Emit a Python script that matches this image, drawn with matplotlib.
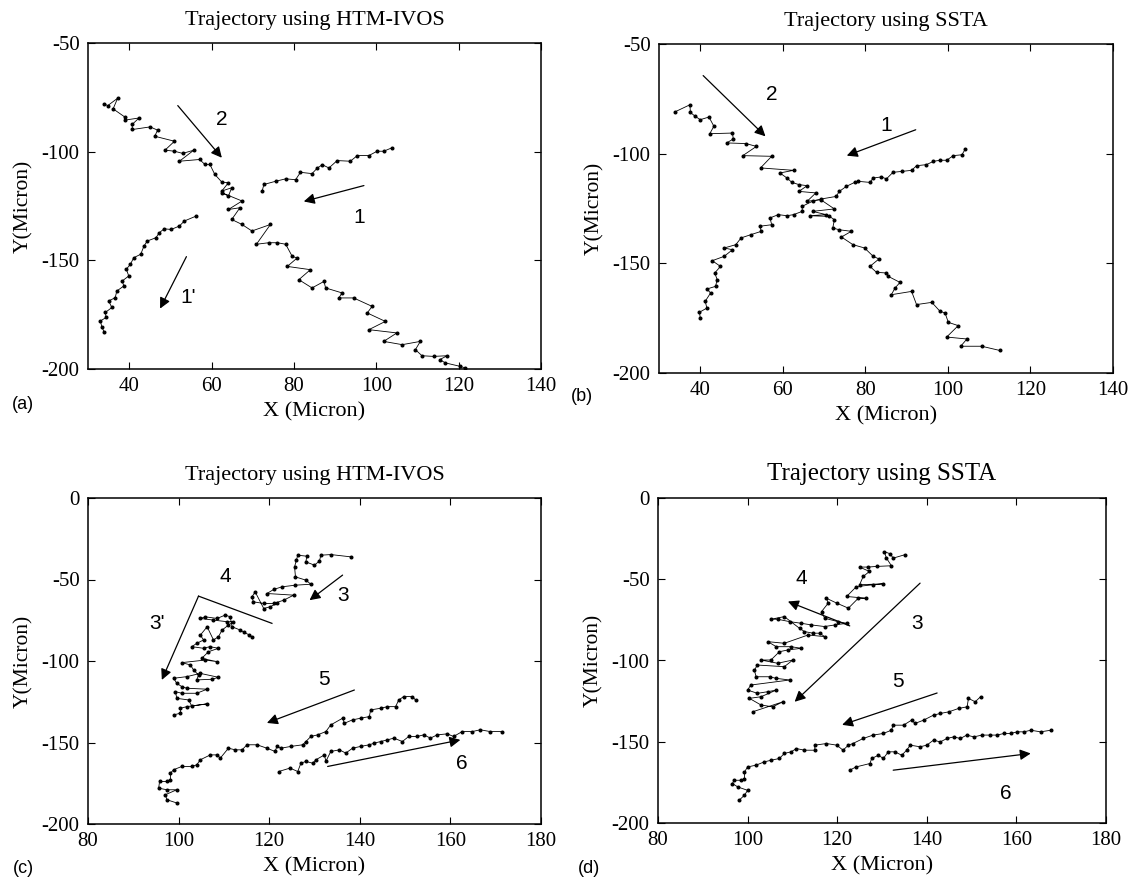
import matplotlib
matplotlib.use('Agg')
import matplotlib.pyplot as plt

plt.rcParams['font.family'] = ['Liberation Serif', 'DejaVu Serif']
plt.rcParams['axes.unicode_minus'] = False

# ----------------------------
# datos (micras)
# ----------------------------
# (a) HTM-IVOS, celula 2
a2_x = [33.8, 34.8, 37.2, 36.1, 38.9, 38.9, 42.4, 40.7, 40.8, 45.1, 46.9, 46.2, 51.0, 48.7, 51.0, 53.0,
        55.7, 52.2, 57.1, 58.4, 59.6, 60.8, 62.5, 64.1, 62.5, 64.9, 64.1, 62.5, 67.4, 64.1, 66.9, 64.9,
        67.4, 69.8, 74.3, 70.9, 73.9, 76.0, 78.0, 79.6, 80.8, 78.4, 84.0, 81.2, 84.4, 87.3, 87.7, 91.7,
        90.9, 94.5, 99.0, 97.8, 102.2, 98.2, 105.0, 101.8, 106.3, 110.7, 109.5, 111.1, 113.9, 117.2,
        115.4, 116.8, 120.4, 121.6]
a2_y = [-77.9, -78.8, -75.4, -80.3, -84.0, -85.5, -84.5, -87.5, -89.8, -88.6, -90.1, -92.9, -95.2, -99.3,
        -99.8, -100.8, -99.3, -104.4, -103.6, -105.9, -105.9, -110.5, -114.0, -114.3, -118.1, -116.6,
        -120.4, -118.9, -122.7, -126.6, -125.8, -131.2, -133.5, -136.5, -133.5, -142.6, -141.9, -141.9,
        -142.6, -148.2, -148.9, -152.8, -154.3, -158.9, -162.7, -159.7, -162.7, -165.0, -167.3, -167.3,
        -171.2, -174.2, -178.1, -181.9, -183.4, -187.3, -188.8, -187.3, -191.1, -193.9, -194.2, -193.9,
        -195.7, -197.2, -198.8, -199.5]
# (a) celula 1 (rama superior)
a1_x = [72.3, 72.7, 75.6, 78.0, 80.4, 81.6, 84.4, 85.7, 86.9, 88.5, 90.5, 93.7, 95.4, 98.2, 100.2, 101.8, 103.7]
a1_y = [-118.1, -115.1, -113.6, -112.5, -112.9, -109.5, -110.1, -107.5, -106.0, -107.5, -104.1, -104.4,
        -101.8, -101.8, -99.8, -99.8, -98.3]
# (a) celula 1' (rama inferior)
a1p_x = [56.3, 53.4, 52.2, 50.2, 48.5, 47.3, 46.5, 44.4, 43.6, 42.8, 41.1, 40.3, 39.3, 39.9, 38.3, 38.7,
         37.0, 36.6, 35.0, 35.8, 34.2, 34.4, 33.0, 33.4, 34.0]
a1p_y = [-129.6, -131.9, -134.2, -135.8, -135.5, -137.3, -139.6, -141.1, -143.4, -147.2, -148.8, -151.8,
         -154.1, -157.2, -159.5, -161.8, -164.1, -167.2, -168.7, -171.7, -174.0, -176.3, -177.9, -180.9, -183.2]

# (b) SSTA, celula 2
b2_x = [33.8, 37.5, 37.6, 38.8, 40.0, 42.1, 43.3, 42.3, 47.8, 48.0, 46.4, 51.1, 53.6, 50.3, 57.3, 54.6,
        62.6, 59.3, 61.0, 62.2, 63.9, 65.9, 63.9, 68.0, 65.9, 69.2, 72.5, 67.2, 70.5, 66.5, 71.3, 72.5,
        72.1, 73.7, 76.6, 74.2, 77.0, 79.8, 81.9, 83.3, 81.1, 82.7, 85.1, 85.5, 88.4, 87.2, 86.3, 91.2,
        92.4, 96.1, 98.1, 99.3, 100.1, 102.5, 99.7, 104.6, 103.1, 108.2, 112.5]
b2_y = [-81.0, -77.7, -81.2, -83.0, -84.5, -83.3, -87.5, -90.9, -90.6, -93.3, -95.1, -95.4, -96.7, -100.9,
        -101.2, -106.5, -107.6, -108.8, -111.1, -113.1, -114.1, -114.6, -117.2, -117.9, -121.7, -121.0,
        -125.2, -126.3, -127.8, -128.3, -128.6, -130.1, -133.9, -134.7, -135.4, -138.0, -141.5, -143.0,
        -146.8, -148.0, -151.4, -154.1, -154.4, -155.9, -158.7, -161.2, -164.3, -162.8, -168.8, -167.8,
        -171.9, -172.6, -176.9, -178.4, -183.6, -184.5, -187.8, -187.8, -189.7]
# (b) celula 1
b1_x = [40.0, 39.8, 41.6, 41.2, 42.5, 41.6, 43.7, 44.1, 43.5, 44.9, 42.9, 45.8, 47.8, 45.8, 48.6, 49.9,
        52.3, 54.8, 54.4, 57.3, 56.9, 58.9, 61.0, 62.6, 64.7, 64.7, 67.2, 69.2, 72.9, 73.7, 75.4, 77.4,
        78.2, 81.1, 81.9, 83.9, 85.1, 86.7, 88.8, 91.2, 92.4, 94.8, 96.5, 98.1, 99.7, 101.3, 103.4, 104.2]
b1_y = [-174.9, -172.3, -170.4, -167.3, -163.5, -161.7, -160.5, -157.4, -154.4, -151.4, -148.8, -146.8,
        -143.8, -143.0, -141.5, -138.4, -136.9, -135.4, -133.1, -132.4, -129.3, -127.8, -128.3, -127.8,
        -126.3, -124.0, -121.7, -120.7, -119.5, -117.2, -114.9, -113.1, -112.6, -113.1, -111.1, -110.6,
        -111.5, -108.5, -108.1, -107.6, -105.5, -105.0, -103.5, -103.0, -103.0, -100.9, -100.5, -97.9]

# (c) HTM-IVOS, celula 3 (grupo superior)
c3_x = [138.0, 133.6, 131.4, 131.1, 130.0, 128.1, 128.3, 126.3, 126.0, 125.6, 125.8, 128.1, 129.2, 125.7,
        122.8, 121.0, 119.5, 125.4, 123.2, 121.0, 118.8, 116.5, 116.2, 116.9, 118.8, 120.2, 121.7]
c3_y = [-36.1, -34.7, -35.1, -38.6, -41.2, -39.2, -35.7, -35.1, -38.2, -42.2, -48.4, -50.4, -52.9, -53.5,
        -54.5, -56.1, -58.6, -59.6, -62.7, -64.7, -64.7, -63.7, -60.6, -57.6, -67.8, -66.7, -64.7]
# (c) celula 3' (grupo izquierdo)
c3p_x = [116.2, 115.6, 114.5, 113.6, 111.8, 111.4, 110.3, 108.5, 105.9, 104.8, 107.7, 110.7, 112.1, 111.0,
         109.6, 108.8, 107.7, 106.3, 104.8, 105.5, 104.0, 102.9, 105.5, 106.9, 108.8, 106.6, 105.1, 108.5,
         105.9, 100.7, 102.6, 103.3, 104.4, 104.0, 107.4, 108.8, 104.8, 101.8, 98.9, 99.6, 100.7, 101.8,
         106.3, 104.0, 100.7, 99.3, 99.6, 102.2, 102.9, 106.3, 101.8, 100.4, 100.4, 98.9]
c3p_y = [-85.1, -84.0, -82.5, -81.0, -79.0, -72.9, -71.8, -73.9, -72.9, -73.9, -74.9, -75.9, -75.9, -78.0,
         -81.0, -85.1, -87.1, -79.0, -84.1, -87.1, -89.2, -91.2, -92.2, -91.2, -92.2, -94.3, -98.4, -100.4,
         -99.4, -101.0, -102.4, -105.5, -108.6, -111.6, -111.2, -110.0, -107.6, -109.6, -110.6, -113.7,
         -115.7, -116.7, -117.3, -119.8, -119.8, -118.8, -122.9, -123.9, -127.6, -126.3, -128.0, -129.0,
         -132.0, -133.1]
# (c) celula 5
c5_x = [152.3, 151.6, 149.7, 148.6, 147.9, 146.1, 144.6, 142.4, 142.1, 140.2, 138.4, 136.6, 136.2, 133.6,
        132.5, 130.7, 129.2, 128.1, 127.4, 124.8, 122.6, 121.7, 121.3, 119.5, 117.3, 115.1, 114.0, 112.5,
        111.0, 109.2, 108.5, 107.0, 104.8, 104.0, 102.9, 100.7, 98.9, 98.2, 98.2, 97.4, 95.8, 95.6, 97.4,
        99.6, 97.1, 97.4, 99.6]
c5_y = [-123.9, -121.8, -121.8, -123.9, -128.0, -128.0, -129.0, -130.0, -134.1, -135.1, -136.1, -138.2,
        -135.1, -139.2, -143.3, -145.3, -146.3, -149.4, -151.4, -152.4, -153.5, -152.4, -155.5, -153.5,
        -151.4, -151.4, -154.5, -154.5, -153.5, -159.6, -157.6, -157.6, -160.6, -163.7, -164.7, -164.7,
        -166.7, -168.8, -172.9, -173.9, -173.9, -178.0, -179.0, -179.0, -182.0, -185.1, -187.1]
# (c) celula 6
c6_x = [122.1, 124.6, 126.3, 127.0, 128.1, 129.6, 130.3, 132.2, 132.5, 133.6, 135.5, 136.9, 138.4, 140.2,
        142.1, 143.2, 144.6, 146.1, 147.5, 149.4, 150.8, 152.7, 154.1, 155.6, 157.1, 159.3, 160.7, 162.6,
        164.8, 166.6, 168.8, 171.4]
c6_y = [-167.8, -165.7, -167.8, -162.7, -161.6, -162.7, -160.6, -157.6, -161.6, -155.5, -154.5, -156.5,
        -153.5, -152.4, -151.4, -150.4, -149.4, -148.4, -147.3, -149.4, -146.3, -146.3, -145.3, -147.3,
        -145.3, -144.7, -146.3, -143.3, -143.3, -142.2, -143.3, -143.3]

# (d) SSTA, celula 3
d3_x = [135.1, 132.5, 131.8, 130.5, 131.0, 132.1, 128.8, 126.9, 125.0, 127.2, 125.8, 125.0, 130.3, 128.0,
        124.3, 122.1, 126.5, 124.7, 122.5, 119.9, 117.6, 118.0, 116.5, 117.2, 120.2, 122.1, 119.5, 117.2,
        114.2, 112.0, 109.4, 106.7, 105.2, 108.2, 111.6, 112.7, 114.6, 116.1, 117.2, 113.5, 108.2, 104.5,
        106.4, 109.7, 112.0, 109.0, 107.1, 105.2, 103.0, 106.7, 110.1, 108.2, 102.2, 101.5, 101.9, 104.9,
        106.4, 109.4, 100.7, 100.0, 102.2, 104.5, 106.4, 103.0, 100.4, 103.0, 105.6, 107.9, 101.1]
d3_y = [-34.9, -37.0, -34.3, -33.0, -37.0, -41.7, -42.1, -42.5, -42.5, -45.2, -48.3, -53.4, -52.8, -53.4,
        -54.5, -60.6, -61.7, -61.7, -67.8, -64.7, -61.7, -64.7, -69.9, -74.0, -76.1, -77.1, -78.1, -79.1,
        -78.1, -77.1, -76.1, -74.6, -74.6, -73.0, -80.2, -82.2, -83.2, -83.2, -85.3, -84.3, -89.4, -88.4,
        -91.5, -91.5, -92.5, -93.5, -94.6, -99.7, -99.7, -101.7, -99.7, -103.8, -102.8, -105.9, -110.0,
        -110.0, -111.0, -112.0, -115.1, -118.2, -120.2, -119.2, -118.2, -122.3, -123.3, -127.4, -128.5,
        -125.4, -131.6]
# (d) celula 5
d5_x = [152.0, 150.8, 149.3, 149.0, 147.1, 144.9, 143.0, 141.5, 139.3, 137.4, 136.6, 134.8, 132.5, 132.1,
        130.3, 128.0, 125.8, 123.5, 122.5, 121.3, 119.9, 117.6, 115.0, 115.0, 112.7, 110.9, 109.7, 108.2,
        107.1, 105.2, 103.7, 101.9, 100.0, 99.3, 99.3, 98.5, 97.0, 96.6, 97.8, 100.0, 99.3, 98.1]
d5_y = [-122.3, -125.4, -123.3, -128.5, -129.5, -131.6, -132.6, -133.6, -136.7, -138.7, -136.7, -139.8,
        -139.8, -142.9, -144.9, -145.9, -148.0, -151.1, -152.1, -155.2, -152.1, -151.1, -152.1, -155.2,
        -155.2, -154.2, -156.2, -157.2, -160.3, -161.4, -162.4, -164.4, -165.5, -168.6, -172.7, -173.7,
        -173.7, -175.7, -177.8, -179.9, -182.9, -186.0]
# (d) celula 6
d6_x = [122.8, 124.2, 127.3, 127.7, 129.2, 130.3, 131.4, 132.9, 134.4, 135.5, 136.3, 138.5, 140.0, 141.5,
        143.0, 144.5, 146.0, 147.5, 148.9, 150.5, 152.3, 154.2, 155.7, 157.2, 158.7, 160.2, 161.7, 163.2,
        165.4, 167.7]
d6_y = [-167.5, -165.5, -163.4, -160.3, -158.3, -160.3, -156.2, -156.2, -158.3, -155.2, -152.1, -153.1,
        -152.1, -149.0, -150.1, -148.0, -147.0, -148.0, -145.9, -147.0, -145.9, -145.9, -145.9, -144.9,
        -144.9, -143.9, -143.9, -142.9, -143.9, -142.9]

# flechas: (cola, punta) y etiquetas
flechas_a = [((51.8, -78.8), (62.5, -102.8)), ((97.0, -115.6), (82.4, -122.9)), ((53.9, -148.3), (47.5, -172.2))]
etiquetas_a = [('2', 62.5, -85.2), ('1', 95.8, -130.5), ("1'", 54.3, -167.2)]
flechas_b = [((40.7, -64.4), (55.8, -92.1)), ((92.2, -89.1), (75.5, -100.9))]
etiquetas_b = [('2', 57.3, -73.1), ('1', 85.0, -87.0)]
flechas_c = [((104.4, -60.2), (96.3, -111.6)), ((136.2, -47.3), (128.9, -62.7)),
             ((138.8, -117.8), (119.5, -138.0)), ((132.9, -164.7), (162.2, -148.4))]
linea_c4 = ([120.6, 104.4], [-76.9, -60.2])
etiquetas_c = [('4', 110.3, -48.4), ("3'", 95.2, -76.9), ('3', 136.2, -59.6), ('5', 132.1, -111.6),
               ('6', 162.6, -162.7)]
flechas_d = [((122.8, -78.7), (109.0, -63.7)), ((138.5, -52.4), (110.5, -125.4)),
             ((142.3, -120.0), (121.1, -139.6)), ((132.5, -167.5), (163.2, -157.2))]
etiquetas_d = [('4', 112.0, -49.3), ('3', 137.8, -77.1), ('5', 133.5, -113.0), ('6', 157.6, -181.9)]

# ----------------------------
# figura
# ----------------------------
W, H = 1133, 880
fig = plt.figure(figsize=(W / 100, H / 100), dpi=100)


def ejes(left, top, right, bottom):
    return fig.add_axes([left / W, 1 - bottom / H, (right - left) / W, (bottom - top) / H])


def preparar(ax, xlim, ylim, xticks, yticks, titulo, tsize):
    ax.set_xlim(*xlim)
    ax.set_ylim(*ylim)
    ax.set_xticks(xticks)
    ax.set_yticks(yticks)
    ax.tick_params(direction='in', top=True, right=True, length=5, width=0.8, labelsize=15, pad=6)
    for s in ax.spines.values():
        s.set_linewidth(1.1)
    ax.set_title(titulo, fontsize=tsize, pad=13)
    ax.set_xlabel('X (Micron)', fontsize=16, labelpad=4)
    ax.set_ylabel('Y(Micron)', fontsize=15.5, labelpad=6)


def tray(ax, x, y):
    ax.plot(x, y, '-', color='k', lw=0.6, marker='.', ms=3.8)


def flechas(ax, lista, etiquetas):
    for tail, head in lista:
        ax.annotate('', xy=head, xytext=tail,
                    arrowprops=dict(arrowstyle='-|>', color='k', lw=0.9, mutation_scale=16,
                                    shrinkA=0, shrinkB=0))
    for txt, x, y in etiquetas:
        ax.text(x, y, txt, fontsize=15, family='Liberation Sans', ha='center', va='center')


ax_a = ejes(88, 43, 541, 369)
preparar(ax_a, (30, 140), (-200, -50), range(40, 141, 20), [-200, -150, -100, -50],
         'Trajectory using HTM-IVOS', 16)
tray(ax_a, a2_x, a2_y)
tray(ax_a, a1_x, a1_y)
tray(ax_a, a1p_x, a1p_y)
flechas(ax_a, flechas_a, etiquetas_a)

ax_b = ejes(659, 44, 1113, 373)
preparar(ax_b, (30, 140), (-200, -50), range(40, 141, 20), [-200, -150, -100, -50],
         'Trajectory using SSTA', 16)
tray(ax_b, b2_x, b2_y)
tray(ax_b, b1_x, b1_y)
flechas(ax_b, flechas_b, etiquetas_b)

ax_c = ejes(88, 498, 541, 824)
preparar(ax_c, (80, 180), (-200, 0), range(80, 181, 20), range(-200, 1, 50),
         'Trajectory using HTM-IVOS', 16)
tray(ax_c, c3_x, c3_y)
tray(ax_c, c3p_x, c3p_y)
tray(ax_c, c5_x, c5_y)
tray(ax_c, c6_x, c6_y)
ax_c.plot(*linea_c4, color='k', lw=0.9)
flechas(ax_c, flechas_c, etiquetas_c)

ax_d = ejes(658, 498, 1106, 823)
preparar(ax_d, (80, 180), (-200, 0), range(80, 181, 20), range(-200, 1, 50),
         'Trajectory using SSTA', 18)
tray(ax_d, d3_x, d3_y)
tray(ax_d, d5_x, d5_y)
tray(ax_d, d6_x, d6_y)
flechas(ax_d, flechas_d, etiquetas_d)

for txt, x, y in [('(a)', 12, 413), ('(b)', 571, 405), ('(c)', 13, 877), ('(d)', 578, 877)]:
    fig.text(x / W, 1 - y / H, txt, fontsize=13, family='Liberation Sans', ha='left', va='bottom')

fig.savefig('out.png', dpi=100)
